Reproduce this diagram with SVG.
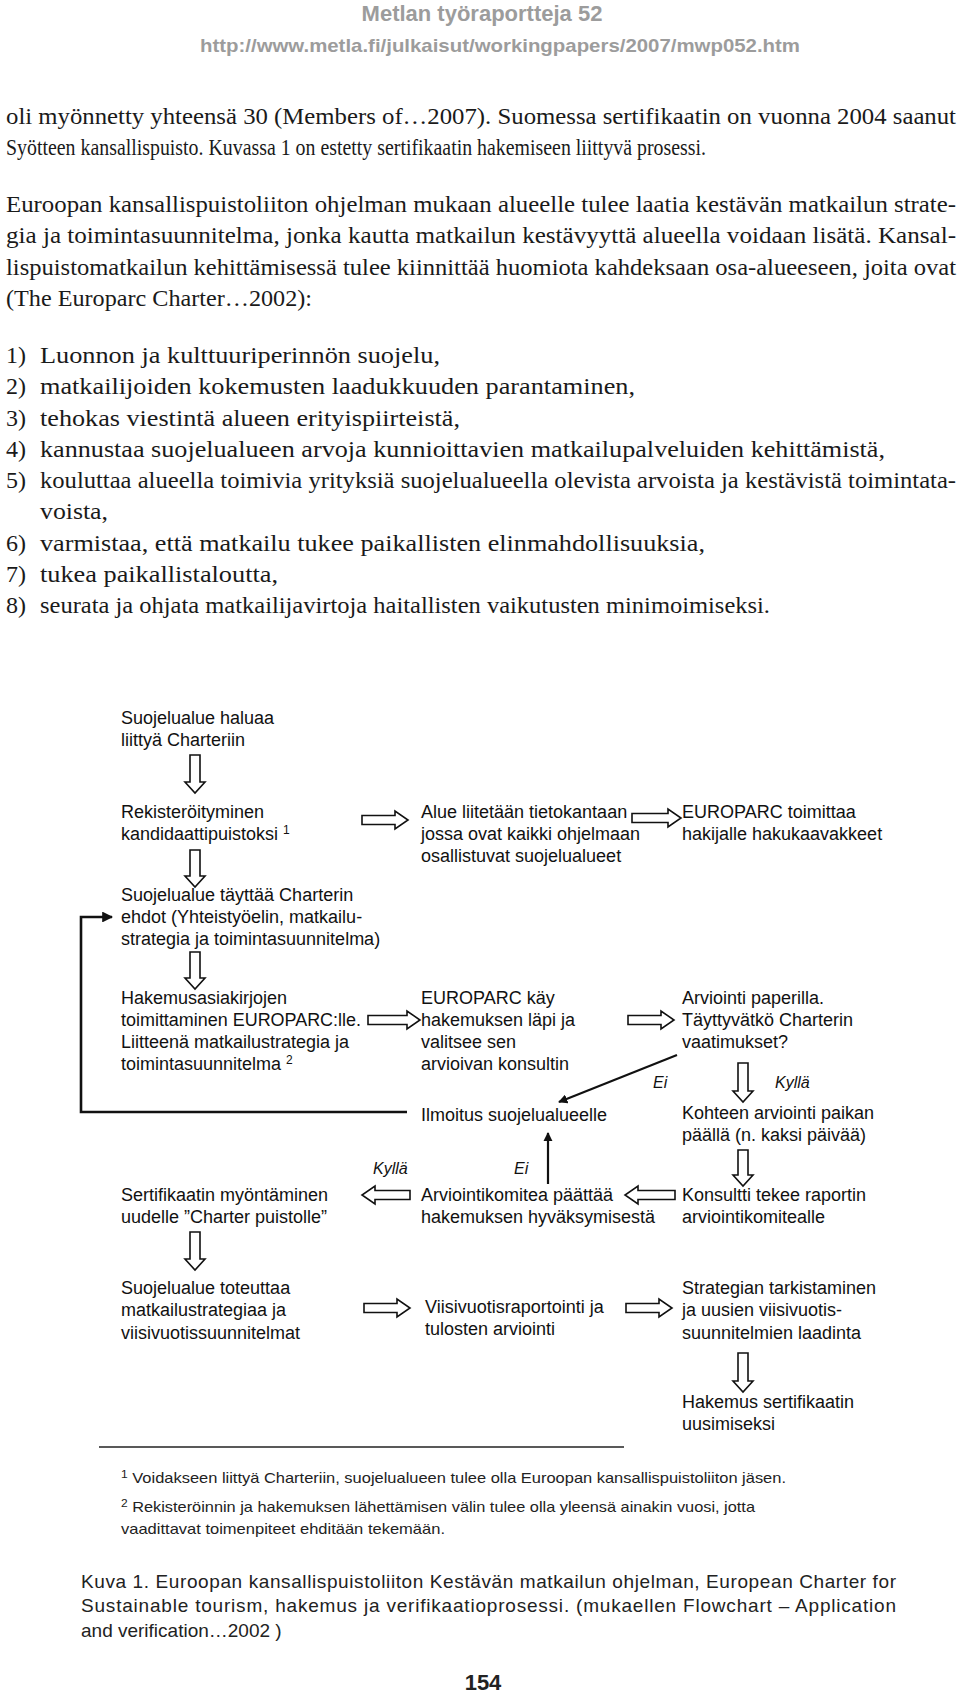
<svg xmlns="http://www.w3.org/2000/svg" width="960" height="1692" viewBox="0 0 960 1692">
<style>
.hd{font-family:"Liberation Sans",Arial,sans-serif;font-weight:bold;fill:#9c9c9c}
.b{font-family:"Liberation Serif","Times New Roman",serif;font-size:24px;fill:#1a1a1a}
.f{font-family:"Liberation Sans",Arial,sans-serif;font-size:18px;fill:#111}
.lab{font-family:"Liberation Sans",Arial,sans-serif;font-size:16px;font-style:italic;fill:#111}
.fn{font-family:"Liberation Sans",Arial,sans-serif;font-size:15px;fill:#222}
.cap{font-family:"Liberation Sans",Arial,sans-serif;font-size:19px;fill:#222}
.pg{font-family:"Liberation Sans",Arial,sans-serif;font-size:22px;font-weight:bold;fill:#222}
.blk{fill:#fff;stroke:#111;stroke-width:1.6;stroke-linejoin:miter}
.ln{fill:none;stroke:#111;stroke-width:2.6}
.ln2{fill:none;stroke:#111;stroke-width:2.2}
</style>
<defs>
<marker id="ah" viewBox="0 0 10 10" refX="9" refY="5" markerWidth="4.2" markerHeight="4.2" orient="auto"><path d="M0,0 L10,5 L0,10 z" fill="#111"/></marker>
</defs>
<rect width="960" height="1692" fill="#fff"/>

<g id="header">
<text class="hd" x="482" y="21" font-size="22" text-anchor="middle">Metlan työraportteja 52</text>
<text class="hd" x="200" y="52" font-size="19" textLength="600" lengthAdjust="spacingAndGlyphs">http://www.metla.fi/julkaisut/workingpapers/2007/mwp052.htm</text>
</g>

<g id="body">
<text class="b" x="6" y="124" textLength="950" lengthAdjust="spacingAndGlyphs">oli myönnetty yhteensä 30 (Members of…2007). Suomessa sertifikaatin on vuonna 2004 saanut</text>
<text class="b" x="6" y="155" textLength="700" lengthAdjust="spacingAndGlyphs">Syötteen kansallispuisto. Kuvassa 1 on estetty sertifikaatin hakemiseen liittyvä prosessi.</text>
<text class="b" x="6" y="212" textLength="950" lengthAdjust="spacingAndGlyphs">Euroopan kansallispuistoliiton ohjelman mukaan alueelle tulee laatia kestävän matkailun strate-</text>
<text class="b" x="6" y="243" textLength="950" lengthAdjust="spacingAndGlyphs">gia ja toimintasuunnitelma, jonka kautta matkailun kestävyyttä alueella voidaan lisätä. Kansal-</text>
<text class="b" x="6" y="275" textLength="950" lengthAdjust="spacingAndGlyphs">lispuistomatkailun kehittämisessä tulee kiinnittää huomiota kahdeksaan osa-alueeseen, joita ovat</text>
<text class="b" x="6" y="306" textLength="306" lengthAdjust="spacingAndGlyphs">(The Europarc Charter…2002):</text>
<text class="b" x="6" y="363">1)</text><text class="b" x="40" y="363" textLength="400" lengthAdjust="spacingAndGlyphs">Luonnon ja kulttuuriperinnön suojelu,</text>
<text class="b" x="6" y="394">2)</text><text class="b" x="40" y="394" textLength="595" lengthAdjust="spacingAndGlyphs">matkailijoiden kokemusten laadukkuuden parantaminen,</text>
<text class="b" x="6" y="426">3)</text><text class="b" x="40" y="426" textLength="420" lengthAdjust="spacingAndGlyphs">tehokas viestintä alueen erityispiirteistä,</text>
<text class="b" x="6" y="457">4)</text><text class="b" x="40" y="457" textLength="845" lengthAdjust="spacingAndGlyphs">kannustaa suojelualueen arvoja kunnioittavien matkailupalveluiden kehittämistä,</text>
<text class="b" x="6" y="488">5)</text><text class="b" x="40" y="488" textLength="916" lengthAdjust="spacingAndGlyphs">kouluttaa alueella toimivia yrityksiä suojelualueella olevista arvoista ja kestävistä toimintata-</text>
<text class="b" x="40" y="519" textLength="68" lengthAdjust="spacingAndGlyphs">voista,</text>
<text class="b" x="6" y="551">6)</text><text class="b" x="40" y="551" textLength="665" lengthAdjust="spacingAndGlyphs">varmistaa, että matkailu tukee paikallisten elinmahdollisuuksia,</text>
<text class="b" x="6" y="582">7)</text><text class="b" x="40" y="582" textLength="238" lengthAdjust="spacingAndGlyphs">tukea paikallistaloutta,</text>
<text class="b" x="6" y="613">8)</text><text class="b" x="40" y="613" textLength="730" lengthAdjust="spacingAndGlyphs">seurata ja ohjata matkailijavirtoja haitallisten vaikutusten minimoimiseksi.</text>
</g>

<g id="connectors">
<path class="blk" d="M190,755 H200 V782 H205 L195,793 L185,782 H190 Z"/>
<path class="blk" d="M190,850 H200 V876 H205 L195,887 L185,876 H190 Z"/>
<path class="blk" d="M190,952 H200 V978 H205 L195,989 L185,978 H190 Z"/>
<path class="blk" d="M190,1232 H200 V1259 H205 L195,1270 L185,1259 H190 Z"/>
<path class="blk" d="M738,1063 H748 V1091 H753 L743,1102 L733,1091 H738 Z"/>
<path class="blk" d="M738,1150 H748 V1175 H753 L743,1186 L733,1175 H738 Z"/>
<path class="blk" d="M738,1353 H748 V1381 H753 L743,1392 L733,1381 H738 Z"/>
<path class="blk" d="M362,815.5 H395 V811 L408,820 L395,829 V824.5 H362 Z"/>
<path class="blk" d="M632,813.5 H668 V809 L681,818 L668,827 V822.5 H632 Z"/>
<path class="blk" d="M368,1015.5 H407 V1011 L420,1020 L407,1029 V1024.5 H368 Z"/>
<path class="blk" d="M628,1015.5 H661 V1011 L674,1020 L661,1029 V1024.5 H628 Z"/>
<path class="blk" d="M364,1303.5 H397 V1299 L410,1308 L397,1317 V1312.5 H364 Z"/>
<path class="blk" d="M626,1303.5 H659 V1299 L672,1308 L659,1317 V1312.5 H626 Z"/>
<path class="blk" d="M675,1190.5 H638 V1186 L625,1195 L638,1204 V1199.5 H675 Z"/>
<path class="blk" d="M410,1190.5 H375 V1186 L362,1195 L375,1204 V1199.5 H410 Z"/>
<path class="ln" d="M407,1112 H81 V917 H112" marker-end="url(#ah)"/>
<line class="ln2" x1="677" y1="1055" x2="559" y2="1102" marker-end="url(#ah)"/>
<line class="ln2" x1="548" y1="1184" x2="548" y2="1133" marker-end="url(#ah)"/>
</g>

<g id="labels">
<text class="lab" x="653" y="1088">Ei</text>
<text class="lab" x="775" y="1088">Kyllä</text>
<text class="lab" x="373" y="1174">Kyllä</text>
<text class="lab" x="514" y="1174">Ei</text>
</g>

<g id="nA"><text class="f" x="121" y="724">Suojelualue haluaa</text><text class="f" x="121" y="746">liittyä Charteriin</text></g>
<g id="nB"><text class="f" x="121" y="818">Rekisteröityminen</text><text class="f" x="121" y="840">kandidaattipuistoksi <tspan font-size="12" dy="-6">1</tspan></text></g>
<g id="nD"><text class="f" x="421" y="818">Alue liitetään tietokantaan</text><text class="f" x="421" y="840">jossa ovat kaikki ohjelmaan</text><text class="f" x="421" y="862">osallistuvat suojelualueet</text></g>
<g id="nE"><text class="f" x="682" y="818">EUROPARC toimittaa</text><text class="f" x="682" y="840">hakijalle hakukaavakkeet</text></g>
<g id="nC"><text class="f" x="121" y="901">Suojelualue täyttää Charterin</text><text class="f" x="121" y="923">ehdot (Yhteistyöelin, matkailu-</text><text class="f" x="121" y="945">strategia ja toimintasuunnitelma)</text></g>
<g id="nF"><text class="f" x="121" y="1004">Hakemusasiakirjojen</text><text class="f" x="121" y="1026" textLength="240" lengthAdjust="spacingAndGlyphs">toimittaminen EUROPARC:lle.</text><text class="f" x="121" y="1048">Liitteenä matkailustrategia ja</text><text class="f" x="121" y="1070">toimintasuunnitelma <tspan font-size="12" dy="-6">2</tspan></text></g>
<g id="nG"><text class="f" x="421" y="1004">EUROPARC käy</text><text class="f" x="421" y="1026">hakemuksen läpi ja</text><text class="f" x="421" y="1048">valitsee sen</text><text class="f" x="421" y="1070">arvioivan konsultin</text></g>
<g id="nH"><text class="f" x="682" y="1004">Arviointi paperilla.</text><text class="f" x="682" y="1026">Täyttyvätkö Charterin</text><text class="f" x="682" y="1048">vaatimukset?</text></g>
<g id="nI"><text class="f" x="421" y="1121">Ilmoitus suojelualueelle</text></g>
<g id="nJ"><text class="f" x="682" y="1119">Kohteen arviointi paikan</text><text class="f" x="682" y="1141">päällä (n. kaksi päivää)</text></g>
<g id="nK"><text class="f" x="682" y="1201">Konsultti tekee raportin</text><text class="f" x="682" y="1223">arviointikomitealle</text></g>
<g id="nL"><text class="f" x="421" y="1201">Arviointikomitea päättää</text><text class="f" x="421" y="1223">hakemuksen hyväksymisestä</text></g>
<g id="nM"><text class="f" x="121" y="1201">Sertifikaatin myöntäminen</text><text class="f" x="121" y="1223">uudelle ”Charter puistolle”</text></g>
<g id="nN"><text class="f" x="121" y="1294">Suojelualue toteuttaa</text><text class="f" x="121" y="1316">matkailustrategiaa ja</text><text class="f" x="121" y="1339">viisivuotissuunnitelmat</text></g>
<g id="nO"><text class="f" x="425" y="1313">Viisivuotisraportointi ja</text><text class="f" x="425" y="1335">tulosten arviointi</text></g>
<g id="nP"><text class="f" x="682" y="1294">Strategian tarkistaminen</text><text class="f" x="682" y="1316">ja uusien viisivuotis-</text><text class="f" x="682" y="1339">suunnitelmien laadinta</text></g>
<g id="nQ"><text class="f" x="682" y="1408">Hakemus sertifikaatin</text><text class="f" x="682" y="1430">uusimiseksi</text></g>

<g id="footnotes">
<line x1="99" y1="1447" x2="624" y2="1447" stroke="#222" stroke-width="1.5"/>
<text class="fn" x="121" y="1483" textLength="665" lengthAdjust="spacingAndGlyphs"><tspan font-size="11" dy="-5">1</tspan><tspan dy="5"> Voidakseen liittyä Charteriin, suojelualueen tulee olla Euroopan kansallispuistoliiton jäsen.</tspan></text>
<text class="fn" x="121" y="1512" textLength="634" lengthAdjust="spacingAndGlyphs"><tspan font-size="11" dy="-5">2</tspan><tspan dy="5"> Rekisteröinnin ja hakemuksen lähettämisen välin tulee olla yleensä ainakin vuosi, jotta</tspan></text>
<text class="fn" x="121" y="1534" textLength="324" lengthAdjust="spacingAndGlyphs">vaadittavat toimenpiteet ehditään tekemään.</text>
</g>

<g id="caption">
<text class="cap" x="81" y="1588" textLength="815" lengthAdjust="spacing">Kuva 1. Euroopan kansallispuistoliiton Kestävän matkailun ohjelman, European Charter for</text>
<text class="cap" x="81" y="1612" textLength="815" lengthAdjust="spacing">Sustainable tourism, hakemus ja verifikaatioprosessi. (mukaellen Flowchart – Application</text>
<text class="cap" x="81" y="1637">and verification…2002 )</text>
<text class="pg" x="483" y="1690" text-anchor="middle">154</text>
</g>
</svg>
